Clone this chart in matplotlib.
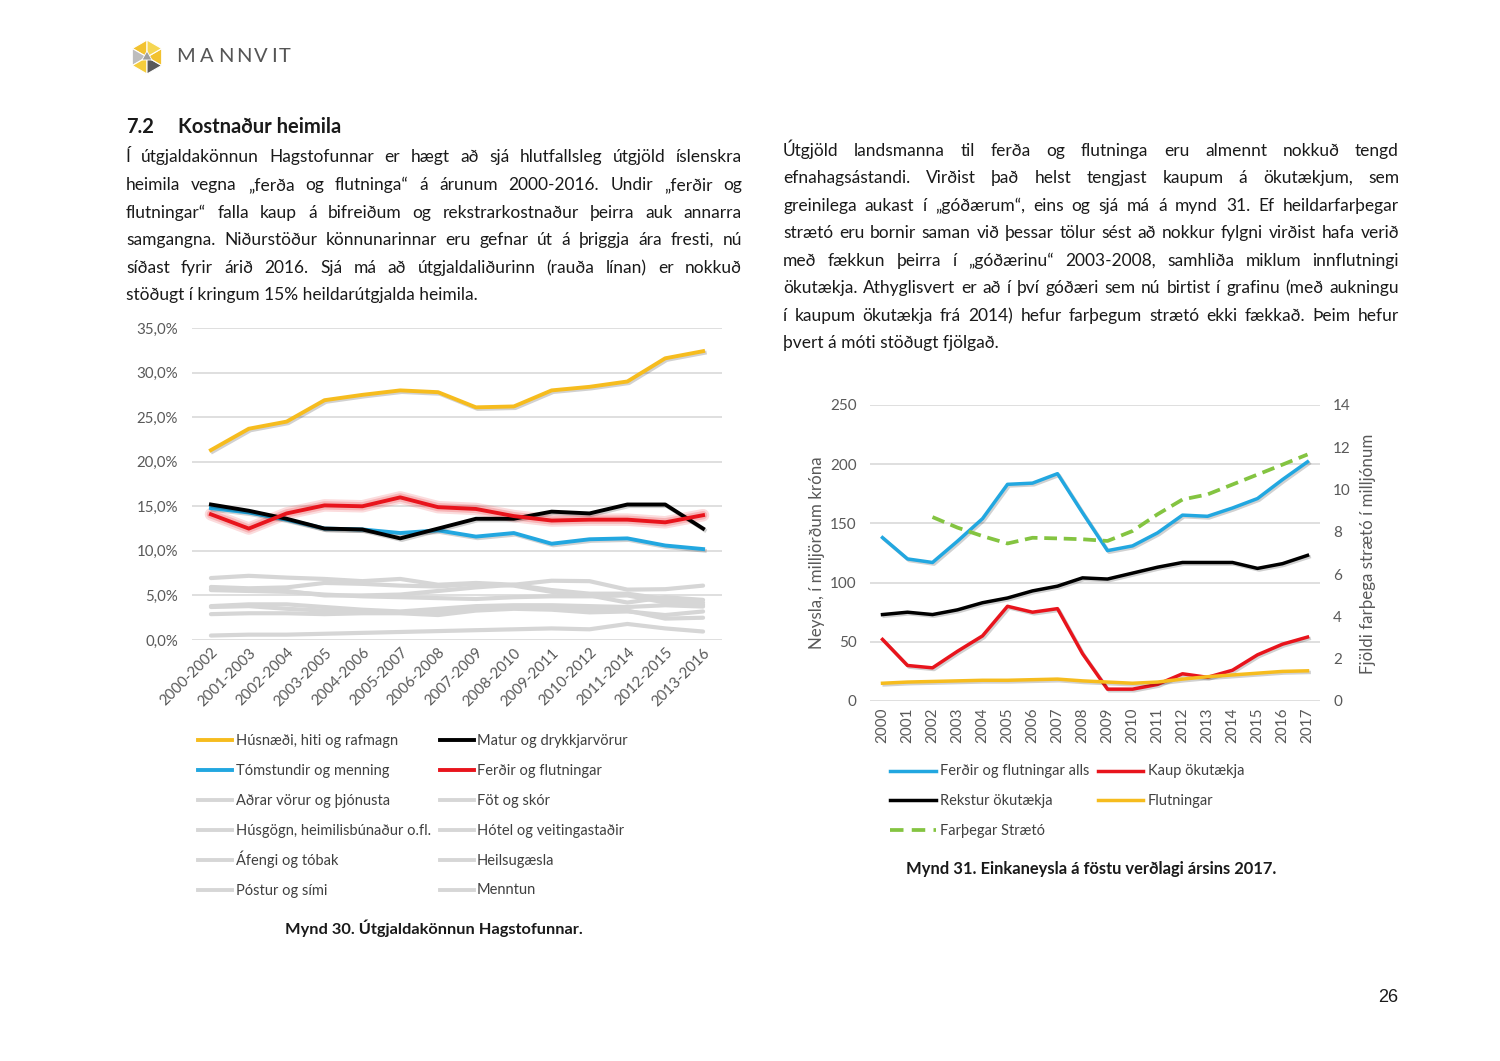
import numpy as np
import matplotlib
matplotlib.use('Agg')
import matplotlib.pyplot as plt
from matplotlib import patheffects as pe
from matplotlib.lines import Line2D
from matplotlib.patches import Polygon

plt.rcParams['font.family'] = ['Lato', 'DejaVu Sans']

W, H = 1500, 1061

# ---- data: left chart (Mynd 30) ----
periods = ['2000-2002', '2001-2003', '2002-2004', '2003-2005', '2004-2006',
           '2005-2007', '2006-2008', '2007-2009', '2008-2010', '2009-2011',
           '2010-2012', '2011-2014', '2012-2015', '2013-2016']

husnaedi = [21.3, 23.7, 24.5, 26.9, 27.5, 28.0, 27.8, 26.1, 26.2, 28.0, 28.4, 29.0, 31.6, 32.4]
matur = [15.2, 14.5, 13.6, 12.5, 12.4, 11.4, 12.5, 13.6, 13.6, 14.4, 14.2, 15.2, 15.2, 12.5]
tomstundir = [14.8, 14.3, 13.5, 12.5, 12.4, 12.0, 12.3, 11.6, 12.0, 10.8, 11.3, 11.4, 10.6, 10.2]
ferdir = [14.1, 12.5, 14.2, 15.1, 15.0, 16.0, 14.9, 14.7, 13.9, 13.4, 13.5, 13.5, 13.2, 14.0]

adrar = [6.95, 7.2, 7.0, 6.85, 6.6, 6.85, 6.2, 6.4, 6.2, 6.65, 6.6, 5.65, 5.7, 6.1]
fot = [5.95, 5.8, 5.9, 6.4, 6.3, 6.1, 6.0, 6.3, 6.1, 5.4, 5.0, 4.2, 4.8, 4.5]
husgogn = [5.7, 5.6, 5.5, 5.0, 5.0, 5.1, 5.5, 5.9, 6.2, 5.6, 5.2, 5.2, 4.6, 4.2]
hotel = [5.6, 5.5, 5.4, 5.1, 4.9, 4.8, 4.7, 4.6, 4.8, 4.9, 4.9, 5.0, 4.2, 3.95]
afengi = [3.8, 4.0, 4.0, 3.7, 3.4, 3.2, 3.5, 3.8, 3.9, 3.9, 3.8, 3.7, 3.9, 3.75]
heilsa = [3.7, 3.8, 3.5, 3.3, 3.2, 3.1, 3.2, 3.4, 3.6, 3.6, 3.5, 3.3, 2.4, 2.5]
postur = [2.9, 3.0, 3.0, 2.9, 3.0, 3.0, 2.8, 3.3, 3.5, 3.4, 3.1, 3.2, 2.8, 3.2]
menntun = [0.5, 0.6, 0.6, 0.7, 0.8, 0.9, 1.0, 1.1, 1.2, 1.3, 1.2, 1.8, 1.3, 0.95]

# ---- data: right chart (Mynd 31) ----
years = list(range(2000, 2018))
ferdir_alls = [138, 120, 117, 135, 154, 183, 184, 192, 159, 127, 131, 142, 157, 156, 163, 171, 187, 202]
kaup = [52, 30, 28, 42, 55, 80, 75, 78, 40, 10, 10, 14, 23, 20, 26, 39, 48, 54]
rekstur = [73, 75, 73, 77, 83, 87, 93, 97, 104, 103, 108, 113, 117, 117, 117, 112, 116, 123]
flutningar = [15, 16, 16.5, 17, 17.5, 17.5, 18, 18.5, 17, 16, 15, 16, 18.5, 20.5, 22, 23.5, 25, 25.5]
farthegar = [np.nan, np.nan, 8.7, 8.2, 7.8, 7.45, 7.72, 7.69, 7.65, 7.57, 8.04, 8.83, 9.53, 9.77, 10.24, 10.71, 11.18, 11.66]

YEL = '#F6BC1E'
BLU = '#22A7E0'
RED = '#E8141C'
GRN = '#84C441'
GRY = '#D6D6D6'
TXT = '#1a1a1a'
TCK = '#595959'
LEG = '#404040'

fig = plt.figure(figsize=(15, 10.61), dpi=100)
fig.patch.set_facecolor('white')


def fx(x):
    return x / W


def fy(y):
    return 1 - y / H


renderer = fig.canvas.get_renderer()


def text_width(s, size, **kw):
    t = fig.text(0, 0, s, fontsize=size, **kw)
    w = t.get_window_extent(renderer).width
    t.remove()
    return w


def paragraph(lines, x0, x1, baselines, size_max, **kw):
    # justified block, last line left aligned; words may sit a bit closer than a normal space
    s0 = 12
    em = s0 * 100 / 72
    ratios = []
    for l in lines[:-1]:
        words = l.split(' ')
        wsum = sum(text_width(w, s0, **kw) for w in words)
        ratios.append((x1 - x0) / (wsum + 0.2 * em * (len(words) - 1)))
    size = min(size_max, s0 * min(ratios))
    for i, (line, y) in enumerate(zip(lines, baselines)):
        if i == len(lines) - 1:
            fig.text(fx(x0), fy(y), line, fontsize=size, va='baseline', ha='left', color=TXT, **kw)
            continue
        words = line.split(' ')
        ws = [text_width(w, size, **kw) for w in words]
        gap = (x1 - x0 - sum(ws)) / (len(words) - 1)
        xx = x0
        for w, wd in zip(words, ws):
            fig.text(fx(xx), fy(y), w, fontsize=size, va='baseline', ha='left', color=TXT, **kw)
            xx += wd + gap


def legend_entry(x0, x1, xt, y, label, **style):
    fig.add_artist(Line2D([fx(x0), fx(x1)], [fy(y), fy(y)], transform=fig.transFigure, **style))
    fig.text(fx(xt), fy(y + 4.5), label, fontsize=10.5, color=LEG, ha='left', va='baseline')


# ---- logo ----
lax = fig.add_axes([fx(128), fy(76), 38 / W, 38 / H])
lax.set_xlim(0, 38)
lax.set_ylim(0, 38)
lax.axis('off')
cx, cy, r = 19, 19, 17
ang = np.deg2rad([90, 150, 210, 270, 330, 30])
vx = cx + r * np.cos(ang)
vy = cy + r * np.sin(ang)
cols = ['#F2C230', '#BDBDBD', '#F5CD3C', '#5A5A5A', '#F2C230', '#F5D652']
for i in range(6):
    j = (i + 1) % 6
    lax.add_patch(Polygon([[cx, cy], [vx[i], vy[i]], [vx[j], vy[j]]], closed=True,
                          fc=cols[i], ec='white', lw=0.8))
lax.add_patch(Polygon([[cx - 5, cy - 3], [cx + 5, cy - 3], [cx, cy + 6]], closed=True, fc='#9E9E9E', ec='white', lw=0.6))
for ch, xc in zip('MANNVIT', [186, 207, 226, 244, 261, 274, 285]):
    fig.text(fx(xc), fy(57), ch, fontsize=14.5, color='#555555', ha='center', va='center')

# ---- heading and body text ----
fig.text(fx(126), fy(133), '7.2', fontsize=14.5, fontweight='bold', color=TXT, va='baseline')
fig.text(fx(178), fy(133), 'Kostnaður heimila', fontsize=14.5, fontweight='bold', color=TXT, va='baseline')

left_lines = [
    'Í útgjaldakönnun Hagstofunnar er hægt að sjá hlutfallsleg útgjöld íslenskra',
    'heimila vegna „ferða og flutninga“ á árunum 2000-2016. Undir „ferðir og',
    'flutningar“ falla kaup á bifreiðum og rekstrarkostnaður þeirra auk annarra',
    'samgangna. Niðurstöður könnunarinnar eru gefnar út á þriggja ára fresti, nú',
    'síðast fyrir árið 2016. Sjá má að útgjaldaliðurinn (rauða línan) er nokkuð',
    'stöðugt í kringum 15% heildarútgjalda heimila.',
]
paragraph(left_lines, 126, 742, [162, 190, 218, 245, 273, 300], 12.5)

right_lines = [
    'Útgjöld landsmanna til ferða og flutninga eru almennt nokkuð tengd',
    'efnahagsástandi. Virðist það helst tengjast kaupum á ökutækjum, sem',
    'greinilega aukast í „góðærum“, eins og sjá má á mynd 31. Ef heildarfarþegar',
    'strætó eru bornir saman við þessar tölur sést að nokkur fylgni virðist hafa verið',
    'með fækkun þeirra í „góðærinu“ 2003-2008, samhliða miklum innflutningi',
    'ökutækja. Athyglisvert er að í því góðæri sem nú birtist í grafinu (með aukningu',
    'í kaupum ökutækja frá 2014) hefur farþegum strætó ekki fækkað. Þeim hefur',
    'þvert á móti stöðugt fjölgað.',
]
paragraph(right_lines, 783, 1399, [156, 183, 211, 238, 266, 293, 321, 348], 12.5)

# ---- left chart ----
ax1 = fig.add_axes([fx(192), fy(640), (722 - 192) / W, (640 - 328) / H])
x = np.arange(len(periods))
ax1.set_xlim(-0.5, len(periods) - 0.5)
ax1.set_ylim(0, 35)
ax1.set_yticks(np.arange(0, 36, 5))
ax1.set_yticklabels([f'{v:.1f}'.replace('.', ',') + '%' for v in np.arange(0, 36, 5)])
ax1.set_xticks(x)
ax1.set_xticklabels(periods, rotation=45, ha='right', va='top', rotation_mode='anchor')
ax1.yaxis.grid(True, color='#D9D9D9', lw=1.2)
ax1.set_axisbelow(True)
for s in ax1.spines.values():
    s.set_visible(False)
ax1.tick_params(axis='both', length=0, labelsize=10.8, colors=TCK)
ax1.tick_params(axis='y', pad=10)
ax1.tick_params(axis='x', pad=4)

shadow = [pe.SimpleLineShadow(offset=(1.2, -1.2), alpha=0.18), pe.Normal()]
gray_series = [('Aðrar vörur og þjónusta', adrar), ('Föt og skór', fot),
               ('Húsgögn, heimilisbúnaður o.fl.', husgogn), ('Hótel og veitingastaðir', hotel),
               ('Áfengi og tóbak', afengi), ('Heilsugæsla', heilsa),
               ('Póstur og sími', postur), ('Menntun', menntun)]
for lab, vals in gray_series:
    ax1.plot(x, vals, color=GRY, lw=3.0, solid_capstyle='round', label=lab)

ax1.plot(x, ferdir, color=RED, lw=9, alpha=0.15, solid_capstyle='round')
ax1.plot(x, ferdir, color=RED, lw=6, alpha=0.2, solid_capstyle='round')
ax1.plot(x, tomstundir, color=BLU, lw=2.8, path_effects=shadow)
ax1.plot(x, matur, color='black', lw=2.8, path_effects=shadow)
ax1.plot(x, ferdir, color=RED, lw=2.8)
ax1.plot(x, husnaedi, color=YEL, lw=2.8, path_effects=shadow)

left_col1 = [('Húsnæði, hiti og rafmagn', YEL), ('Tómstundir og menning', BLU),
             ('Aðrar vörur og þjónusta', GRY), ('Húsgögn, heimilisbúnaður o.fl.', GRY),
             ('Áfengi og tóbak', GRY), ('Póstur og sími', GRY)]
left_col2 = [('Matur og drykkjarvörur', 'black'), ('Ferðir og flutningar', RED),
             ('Föt og skór', GRY), ('Hótel og veitingastaðir', GRY),
             ('Heilsugæsla', GRY), ('Menntun', GRY)]
for i, ((l1, c1), (l2, c2)) in enumerate(zip(left_col1, left_col2)):
    yy = 740 + 30 * i
    legend_entry(198, 232, 236, yy, l1, color=c1, lw=2.8)
    legend_entry(440, 474, 477, yy, l2, color=c2, lw=2.8)

fig.text(fx(434), fy(928), 'Mynd 30. Útgjaldakönnun Hagstofunnar.', fontsize=11.8,
         fontweight='bold', ha='center', va='center', color=TXT)

# ---- right chart ----
ax2 = fig.add_axes([fx(870), fy(701), (1320 - 870) / W, (701 - 405) / H])
ax2.set_xlim(years[0] - 0.5, years[-1] + 0.5)
ax2.set_ylim(0, 250)
ax2.set_yticks(range(0, 251, 50))
ax2.set_xticks(years)
ax2.set_xticklabels([str(y) for y in years], rotation=90, ha='center', va='top')
ax2.yaxis.grid(True, color='#D9D9D9', lw=1.2)
ax2.set_axisbelow(True)
for s in ax2.spines.values():
    s.set_visible(False)
ax2.tick_params(axis='both', length=0, labelsize=11, colors=TCK)
ax2.tick_params(axis='y', pad=9.5)
ax2.tick_params(axis='x', pad=5)

axr = ax2.twinx()
axr.set_ylim(0, 14)
axr.set_yticks(range(0, 15, 2))
for s in axr.spines.values():
    s.set_visible(False)
axr.tick_params(axis='y', length=0, labelsize=11, colors=TCK, pad=9.5)

ax2.plot(years, ferdir_alls, color=BLU, lw=2.5, path_effects=shadow)
ax2.plot(years, rekstur, color='black', lw=2.5, path_effects=shadow)
ax2.plot(years, kaup, color=RED, lw=2.5, path_effects=shadow)
ax2.plot(years, flutningar, color=YEL, lw=2.5, path_effects=shadow)
axr.plot(years, farthegar, color=GRN, lw=2.7, dashes=(3.4, 1.8))

fig.text(fx(817), fy(553), 'Neysla, í milljörðum króna', rotation=90, fontsize=12.2,
         color=TCK, ha='center', va='center')
fig.text(fx(1368), fy(554), 'Fjöldi farþega strætó í milljónum', rotation=90, fontsize=12.2,
         color=TCK, ha='center', va='center')

legend_entry(890, 936, 940, 771, 'Ferðir og flutningar alls', color=BLU, lw=2.5)
legend_entry(1098, 1143, 1148, 771, 'Kaup ökutækja', color=RED, lw=2.5)
legend_entry(890, 936, 940, 800, 'Rekstur ökutækja', color='black', lw=2.5)
legend_entry(1098, 1143, 1148, 800, 'Flutningar', color=YEL, lw=2.5)
legend_entry(890, 936, 940, 830, 'Farþegar Strætó', color=GRN, lw=2.7, dashes=(3.6, 2.2))

fig.text(fx(1091), fy(869), 'Mynd 31. Einkaneysla á föstu verðlagi ársins 2017.', fontsize=11.9,
         fontweight='bold', ha='center', va='center', color=TXT)

fig.text(fx(1388), fy(997), '26', fontsize=13, family='Liberation Sans', ha='center', va='center', color=TXT)

fig.savefig('out.png', dpi=100, facecolor='white')
